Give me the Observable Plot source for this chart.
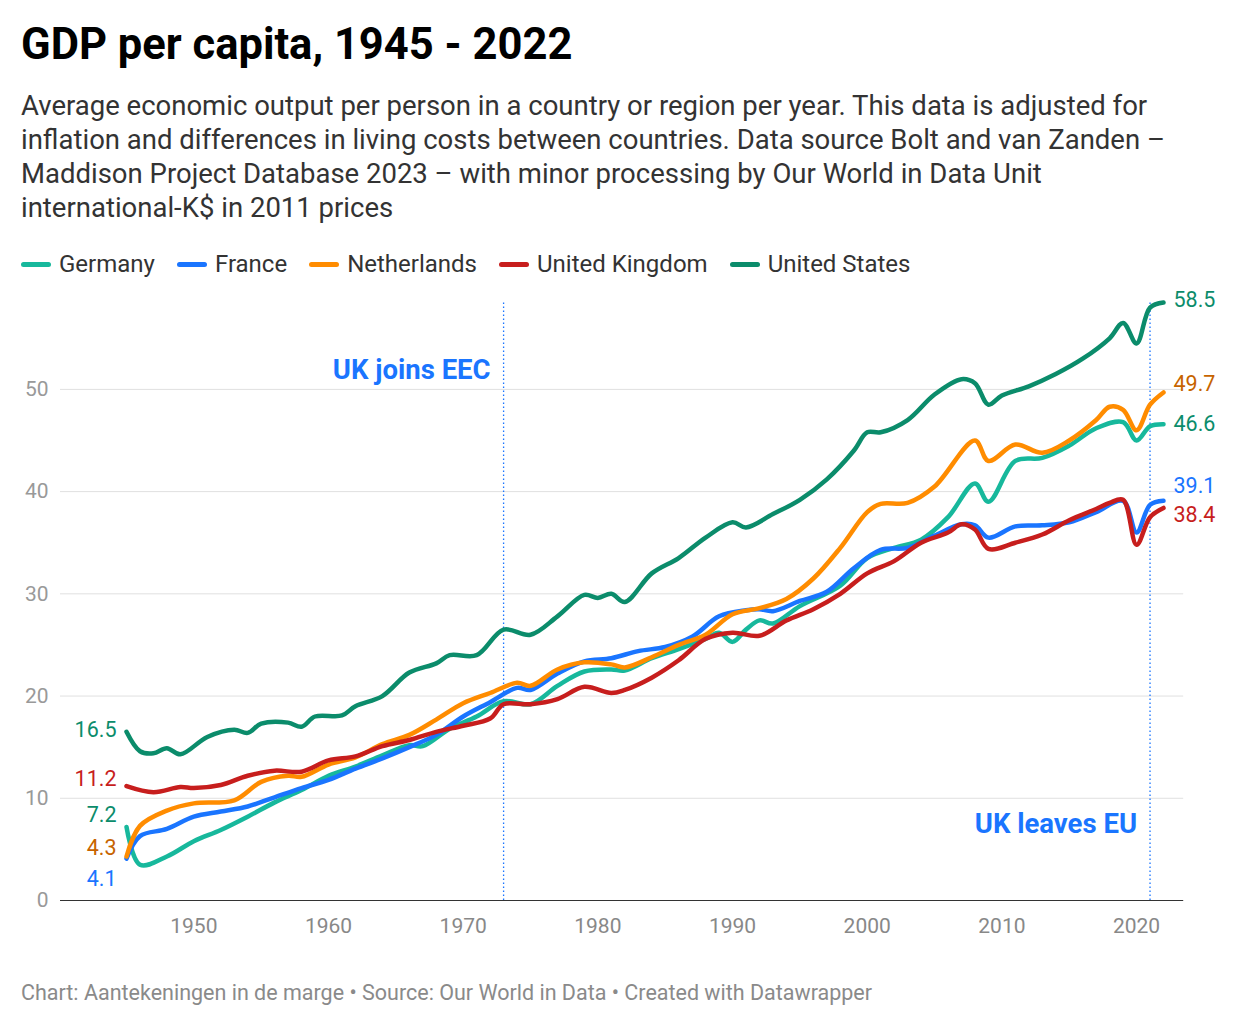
<!DOCTYPE html>
<html><head><meta charset="utf-8">
<script src="https://cdn.jsdelivr.net/npm/d3@7"></script>
<script src="https://cdn.jsdelivr.net/npm/@observablehq/plot@0.6"></script>
<style>
body{margin:0;background:#fff;font-family:Roboto,sans-serif;}
#wrap{position:relative;width:1240px;height:1026px;}
h1{position:absolute;left:21px;top:19px;margin:0;font-size:43.5px;font-weight:700;color:#000;}
#sub{position:absolute;left:21px;top:89px;width:1185px;font-size:27.5px;line-height:34px;color:#333;}
#legend{position:absolute;left:21px;top:250px;font-size:24px;color:#333;display:flex;gap:22px;}
#legend span{display:flex;align-items:center;}
#legend i{display:inline-block;width:30px;height:5px;border-radius:3px;margin-right:8px;}
#chart{position:absolute;left:0;top:285px;}
#foot{position:absolute;left:21px;top:980px;font-size:21.5px;color:#8a8a8a;}
</style></head><body>
<div id="wrap">
<h1>GDP per capita, 1945 - 2022</h1>
<div id="sub">Average economic output per person in a country or region per year. This data is adjusted for inflation and differences in living costs between countries. Data source Bolt and van Zanden – Maddison Project Database 2023 – with minor processing by Our World in Data Unit international-K$ in 2011 prices</div>
<div id="legend"></div>
<div id="chart"></div>
<div id="foot">Chart: Aantekeningen in de marge • Source: Our World in Data • Created with Datawrapper</div>
</div>
<script>
const seriesNames = ["Germany","France","Netherlands","United Kingdom","United States"];
const colors = ["#17b89c","#1a75ff","#ff8c00","#c71e1d","#0b8c6b"];
const labelColors = {"Germany":"#0b8c6b","France":"#1a75ff","Netherlands":"#c76400","United Kingdom":"#c71e1d","United States":"#0b8c6b"};
const US = [[1945,16.5],[1946,14.6],[1947,14.4],[1948,14.9],[1949,14.3],[1951,16],[1953,16.7],[1954,16.4],[1955,17.3],[1957,17.4],[1958,17],[1959,18],[1961,18.1],[1962,19],[1964,20],[1966,22.3],[1968,23.2],[1969,24],[1971,24],[1973,26.5],[1975,26],[1977,27.8],[1979,29.9],[1980,29.6],[1981,30],[1982,29.2],[1984,32],[1986,33.5],[1988,35.5],[1990,37],[1991,36.5],[1993,37.8],[1995,39.2],[1997,41.2],[1999,44],[2000,45.8],[2001,45.8],[2003,47],[2005,49.5],[2007,51],[2008,50.6],[2009,48.5],[2010,49.4],[2012,50.3],[2014,51.5],[2016,53],[2018,55],[2019,56.5],[2020,54.5],[2021,58],[2022,58.5]];
const NL = [[1945,4.3],[1946,7.3],[1948,8.8],[1950,9.5],[1953,9.8],[1955,11.6],[1957,12.2],[1958,12.1],[1960,13.3],[1962,14],[1964,15.3],[1966,16.2],[1968,17.7],[1970,19.3],[1972,20.3],[1974,21.3],[1975,21],[1977,22.6],[1979,23.3],[1981,23.1],[1982,22.8],[1984,23.8],[1986,25],[1988,26],[1990,28],[1992,28.6],[1994,29.5],[1996,31.5],[1998,34.5],[2000,38],[2001,38.8],[2003,38.9],[2005,40.5],[2008,45],[2009,43],[2011,44.6],[2013,43.8],[2015,45],[2017,47],[2018,48.3],[2019,48],[2020,46],[2021,48.5],[2022,49.7]];
const DE = [[1945,7.2],[1946,3.5],[1948,4.3],[1950,5.8],[1952,6.9],[1954,8.2],[1956,9.6],[1958,10.8],[1960,12.2],[1962,13.1],[1964,14.2],[1966,15.2],[1967,15.1],[1969,16.8],[1971,18],[1973,19.5],[1975,19.2],[1977,21],[1979,22.4],[1981,22.6],[1982,22.5],[1984,23.7],[1986,24.6],[1988,25.6],[1989,26.2],[1990,25.3],[1991,26.5],[1992,27.4],[1993,27.1],[1995,28.8],[1998,30.8],[2000,33.5],[2002,34.5],[2004,35.3],[2006,37.5],[2008,40.8],[2009,39],[2011,43],[2013,43.3],[2015,44.5],[2017,46.2],[2019,46.8],[2020,45],[2021,46.4],[2022,46.6]];
const FR = [[1945,4.1],[1946,6.3],[1948,7],[1950,8.2],[1952,8.7],[1954,9.2],[1956,10.1],[1958,11],[1960,11.8],[1962,12.9],[1964,13.9],[1966,15],[1968,16.2],[1970,18],[1972,19.4],[1974,20.8],[1975,20.6],[1977,22.2],[1979,23.4],[1981,23.7],[1983,24.4],[1985,24.8],[1987,25.8],[1989,27.8],[1991,28.4],[1992,28.5],[1993,28.3],[1995,29.3],[1997,30.2],[1999,32.5],[2001,34.3],[2003,34.5],[2005,35.7],[2007,36.8],[2008,36.7],[2009,35.5],[2011,36.6],[2013,36.7],[2015,37],[2017,38],[2019,39.1],[2020,36],[2021,38.7],[2022,39.1]];
const UK = [[1945,11.2],[1947,10.6],[1949,11.1],[1950,11],[1952,11.3],[1954,12.2],[1956,12.7],[1958,12.6],[1960,13.7],[1962,14.1],[1964,15.1],[1966,15.7],[1968,16.5],[1970,17.1],[1972,17.8],[1973,19.2],[1975,19.2],[1977,19.7],[1979,20.9],[1981,20.3],[1982,20.6],[1984,21.8],[1986,23.5],[1988,25.6],[1990,26.2],[1992,25.9],[1994,27.4],[1996,28.5],[1998,30],[2000,32],[2002,33.2],[2004,35],[2006,36],[2007,36.8],[2008,36.3],[2009,34.4],[2011,35],[2013,35.8],[2015,37.2],[2017,38.3],[2018,38.9],[2019,39.2],[2020,34.8],[2021,37.5],[2022,38.4]];
const yTicks = [0,10,20,30,40,50];
const xTicks = [1950,1960,1970,1980,1990,2000,2010,2020];
const events = [{year:1973,label:"UK joins EEC",y:51.9},{year:2021,label:"UK leaves EU",y:7.5}];

const raw = {"Germany":DE,"France":FR,"Netherlands":NL,"United Kingdom":UK,"United States":US};
const rows = [];
for (const s of seriesNames) for (const [year,v] of raw[s]) rows.push({s,year,v});
const first = seriesNames.map(s=>({s,year:1945,v:raw[s][0][1]}));
const last = seriesNames.map(s=>({s,year:2022,v:raw[s][raw[s].length-1][1]}));
const firstY = {"United States":16.7,"United Kingdom":11.9,"Germany":8.4,"Netherlands":5.1,"France":2.1};
const lastY = {"United States":58.7,"Netherlands":50.5,"Germany":46.6,"France":40.5,"United Kingdom":37.7};

document.getElementById("legend").innerHTML = seriesNames.map((s,i)=>`<span><i style="background:${colors[i]}"></i>${s}</span>`).join("");

const chart = Plot.plot({
  width:1240, height:660, marginLeft:126, marginRight:77, marginTop:17, marginBottom:45,
  style:{fontFamily:"Roboto,sans-serif", overflow:"visible"},
  x:{domain:[1945,2022], axis:null},
  y:{domain:[0,58.5], axis:null},
  color:{domain:seriesNames, range:colors},
  marks:[
    Plot.ruleY(yTicks.filter(d=>d>0),{x1:1940.1,x2:2023.5,stroke:"#e0e0e0",strokeWidth:1,clip:false}),
    Plot.ruleY([0],{x1:1940.1,x2:2023.5,stroke:"#333",strokeWidth:1.2}),
    Plot.text(yTicks,{x:1940.1,y:d=>d,text:d=>String(d),dx:-12,textAnchor:"end",fill:"#999",fontSize:21}),
    Plot.text(xTicks,{x:d=>d,y:0,text:d=>String(d),dy:26,fill:"#888",fontSize:21}),
    Plot.ruleX(events,{x:"year",y1:0,y2:58.5,stroke:"#1a75ff",strokeDasharray:"1.5,2.5",strokeWidth:1.3}),
    Plot.text(events,{x:"year",y:"y",text:"label",dx:-13,textAnchor:"end",fill:"#1a75ff",fontWeight:700,fontSize:27.5}),
    Plot.line(rows,{x:"year",y:"v",z:"s",stroke:"s",strokeWidth:4.5,curve:"catmull-rom"}),
    Plot.text(first,{x:"year",y:d=>firstY[d.s],text:d=>String(d.v),fill:d=>labelColors[d.s],dx:-10,textAnchor:"end",fontSize:21.5}),
    Plot.text(last,{x:"year",y:d=>lastY[d.s],text:d=>String(d.v),fill:d=>labelColors[d.s],dx:10,textAnchor:"start",fontSize:21.5})
  ]
});
document.getElementById("chart").appendChild(chart);
</script>
</body></html>
